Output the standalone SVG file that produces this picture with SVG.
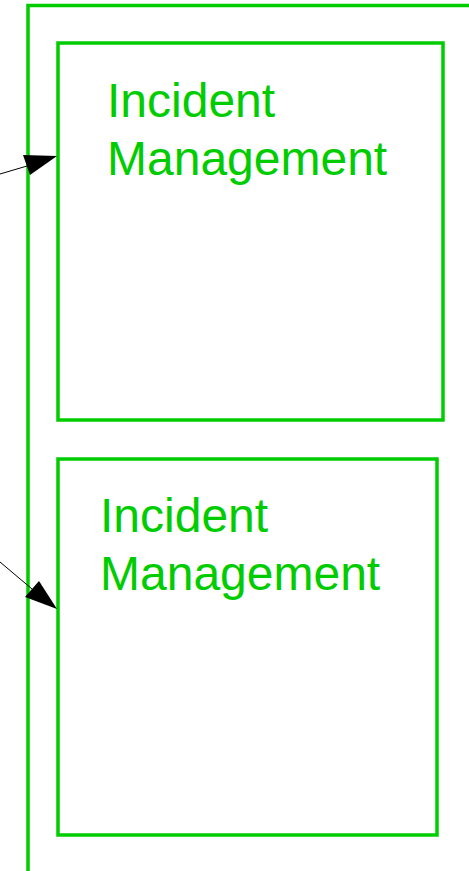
<svg xmlns="http://www.w3.org/2000/svg" width="469" height="871" viewBox="0 0 469 871">
<style>
.box{fill:none;stroke:#00cc00;stroke-width:3.5}
.lbl{fill:#00cc00;font-family:"Liberation Sans",Arial,sans-serif;font-size:48px}
.conn{stroke:#000;stroke-width:1;fill:none}
.head{fill:#000;stroke:none}
</style>
<rect width="469" height="871" fill="#fff"/>
<g id="container">
<path class="box" d="M28,871 L28,5.5 L469,5.5"/>
</g>
<g id="node1">
<rect class="box" x="58" y="43" width="385" height="377"/>
<text class="lbl" x="107" y="116.7">Incident</text>
<text class="lbl" x="107" y="175">Management</text>
</g>
<g id="node2">
<rect class="box" x="58" y="459" width="379" height="376"/>
<text class="lbl" x="100" y="532.3">Incident</text>
<text class="lbl" x="100" y="590">Management</text>
</g>
<g id="connectors">
<line class="conn" x1="0" y1="174" x2="27" y2="166"/>
<polygon class="head" points="57,156 23,155 30,175"/>
<line class="conn" x1="0" y1="562" x2="32" y2="589"/>
<polygon class="head" points="57,609 39,581 25,597"/>
</g>
</svg>
